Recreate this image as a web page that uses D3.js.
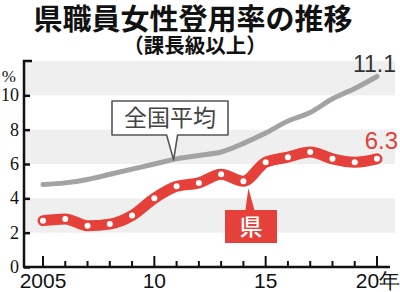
<!DOCTYPE html>
<html>
<head>
<meta charset="utf-8">
<title>県職員女性登用率の推移</title>
<script src="https://d3js.org/d3.v7.min.js"></script>
<style>
  body { margin: 0; background: #fff; }
  svg { display: block; }
</style>
</head>
<body>
<script>
  // data
  const years = d3.range(2005, 2021);
  const kenValues = [2.7, 2.8, 2.4, 2.5, 3.0, 4.0, 4.7, 4.9, 5.4, 5.0, 6.1, 6.4, 6.7, 6.3, 6.1, 6.3];
  const zenkokuValues = [4.8, 4.9, 5.1, 5.4, 5.7, 6.0, 6.3, 6.5, 6.7, 7.2, 7.8, 8.5, 9.0, 9.8, 10.4, 11.1];
  const yTicks = [0, 2, 4, 6, 8, 10];
  const bandRanges = [[2, 4], [6, 8], [10, 12]];
  const xLabels = [[2005, '2005'], [2010, '10'], [2015, '15'], [2020, '20年']];

  const W = 400, H = 292;
  const red = '#e5403a';
  const jp = '"Noto Sans CJK JP", "Noto Sans", sans-serif';

  const svg = d3.select('body').append('svg')
    .attr('width', W)
    .attr('height', H);

  const x = d3.scaleLinear().domain([2005, 2020]).range([43, 377]);
  const y = d3.scaleLinear().domain([0, 12]).range([267, 61]);
  const axisX = 24;

  // title
  svg.append('text')
    .attr('x', 193).attr('y', 30)
    .attr('text-anchor', 'middle')
    .style('font-family', jp).style('font-weight', 700).style('font-size', '29px')
    .attr('fill', '#111')
    .text('県職員女性登用率の推移');
  svg.append('text')
    .attr('x', 195).attr('y', 53)
    .attr('text-anchor', 'middle')
    .style('font-family', jp).style('font-weight', 700).style('font-size', '20.5px')
    .attr('fill', '#111')
    .text('（課長級以上）');

  // background bands
  svg.selectAll('rect.band').data(bandRanges).join('rect')
    .attr('class', 'band')
    .attr('x', axisX + 1)
    .attr('width', 395 - axisX - 1)
    .attr('y', d => y(d[1]))
    .attr('height', d => y(d[0]) - y(d[1]))
    .attr('fill', '#efefef');

  // y axis
  const yAxis = d3.axisRight(y).tickValues(yTicks).tickSize(6).tickFormat('');
  const yg = svg.append('g').attr('transform', `translate(${axisX},0)`).call(yAxis);
  yg.select('.domain').attr('d', `M8,${y(12)}H0V${y(0)}`).attr('stroke', '#111').attr('stroke-width', 2.5).attr('fill', 'none');
  yg.selectAll('.tick line').attr('stroke', '#111').attr('stroke-width', 2.5);

  svg.selectAll('text.ylab').data(yTicks).join('text')
    .attr('class', 'ylab')
    .attr('x', 19).attr('y', d => y(d) + 6)
    .attr('text-anchor', 'end')
    .style('font-family', '"Liberation Serif", "DejaVu Serif", serif').style('font-size', '18px')
    .attr('fill', '#111')
    .text(d => d);
  svg.append('text')
    .attr('x', 16).attr('y', 82)
    .attr('text-anchor', 'end')
    .style('font-family', '"Liberation Serif", "DejaVu Serif", serif').style('font-size', '17px')
    .attr('fill', '#111')
    .text('%');

  // x axis
  const xAxisG = svg.append('g').attr('transform', `translate(0,${y(0)})`);
  xAxisG.append('line')
    .attr('x1', axisX - 1).attr('x2', 390)
    .attr('stroke', '#111').attr('stroke-width', 2.5);
  xAxisG.selectAll('line.tk').data(years).join('line')
    .attr('class', 'tk')
    .attr('x1', d => x(d)).attr('x2', d => x(d))
    .attr('y1', 0).attr('y2', d => d % 5 === 0 ? -11 : -6)
    .attr('stroke', '#111').attr('stroke-width', 2);
  xAxisG.selectAll('text').data(xLabels).join('text')
    .attr('x', d => x(d[0]) + (d[1] === '20年' ? 1 : 0))
    .attr('y', 21)
    .attr('text-anchor', 'middle')
    .style('font-family', '"Liberation Sans Narrow", "Liberation Sans", sans-serif')
    .style('font-size', '21px')
    .attr('fill', '#111')
    .text(d => d[1]);

  // national average line
  const line = d3.line()
    .x((d, i) => x(years[i]))
    .y(d => y(d))
    .curve(d3.curveMonotoneX);

  svg.append('path')
    .datum(zenkokuValues)
    .attr('d', line)
    .attr('fill', 'none')
    .attr('stroke', '#a3a3a3')
    .attr('stroke-width', 5)
    .attr('stroke-linecap', 'round');

  // prefecture line
  svg.append('path')
    .datum(kenValues)
    .attr('d', line)
    .attr('fill', 'none')
    .attr('stroke', red)
    .attr('stroke-width', 11)
    .attr('stroke-linecap', 'round')
    .attr('stroke-linejoin', 'round');

  svg.selectAll('circle.dot').data(kenValues).join('circle')
    .attr('class', 'dot')
    .attr('cx', (d, i) => x(years[i]))
    .attr('cy', d => y(d))
    .attr('r', 3)
    .attr('fill', '#fff');

  // end labels
  const last = years.length - 1;
  svg.append('text')
    .attr('x', 396).attr('y', y(zenkokuValues[last]) - 4)
    .attr('text-anchor', 'end')
    .style('font-family', '"Liberation Sans", Arial, sans-serif').style('font-size', '23px')
    .attr('fill', '#333')
    .text(zenkokuValues[last].toFixed(1));
  svg.append('text')
    .attr('x', 398).attr('y', y(kenValues[last]) - 10)
    .attr('text-anchor', 'end')
    .style('font-family', '"Liberation Sans", Arial, sans-serif').style('font-size', '24px')
    .attr('fill', red)
    .text(kenValues[last].toFixed(1));

  // callout: 全国平均
  const ci = years.indexOf(2011);
  const tipX = x(2011) - 3, tipY = y(zenkokuValues[ci]) + 1;
  const bx0 = 112, bx1 = 228, by0 = 101, by1 = 135;
  svg.append('path')
    .attr('d', `M${bx0},${by0}H${bx1}V${by1}H${tipX + 4}L${tipX},${tipY}L${tipX - 7},${by1}H${bx0}Z`)
    .attr('fill', '#fff')
    .attr('stroke', '#555')
    .attr('stroke-width', 1.6)
    .attr('stroke-linejoin', 'round');
  svg.append('text')
    .attr('x', (bx0 + bx1) / 2).attr('y', 126)
    .attr('text-anchor', 'middle')
    .style('font-family', jp).style('font-size', '23px')
    .attr('fill', '#444')
    .text('全国平均');

  // callout: 県
  const ki = years.indexOf(2014);
  const kx = x(2014) + 5, ky = y(kenValues[ki]) + 7;
  const kx0 = 225, kx1 = 277, ky0 = 210, ky1 = 243;
  svg.append('path')
    .attr('d', `M${kx0},${ky0}H${kx - 3}L${kx},${ky}L${kx + 6},${ky0}H${kx1}V${ky1}H${kx0}Z`)
    .attr('fill', red);
  svg.append('text')
    .attr('x', (kx0 + kx1) / 2).attr('y', 235)
    .attr('text-anchor', 'middle')
    .style('font-family', jp).style('font-weight', 500).style('font-size', '23px')
    .attr('fill', '#fff')
    .text('県');
</script>
</body>
</html>
